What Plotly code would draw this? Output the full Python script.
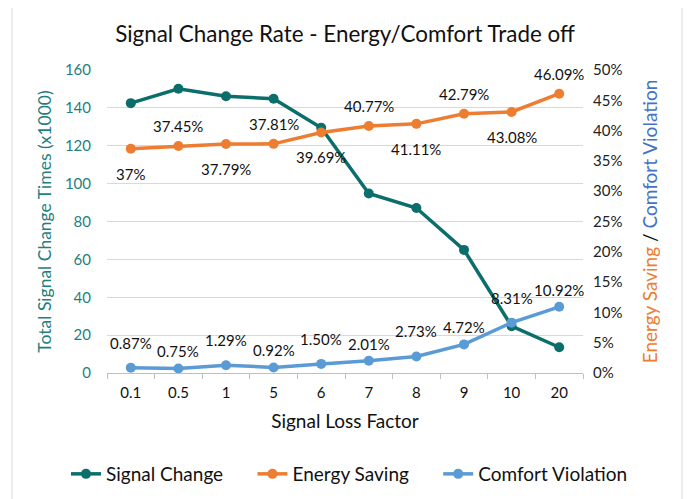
import plotly.graph_objects as go

loss_factors = ['0.1', '0.5', '1', '5', '6', '7', '8', '9', '10', '20']
signal_change = [142.5, 150.1, 146.1, 144.8, 129.5, 94.8, 87.1, 65.0, 24.7, 13.6]
energy_saving = [37.0, 37.45, 37.79, 37.81, 39.69, 40.77, 41.11, 42.79, 43.08, 46.09]
comfort_violation = [0.87, 0.75, 1.29, 0.92, 1.50, 2.01, 2.73, 4.72, 8.31, 10.92]
energy_labels = ['37%', '37.45%', '37.79%', '37.81%', '39.69%',
                 '40.77%', '41.11%', '42.79%', '43.08%', '46.09%']
comfort_labels = ['0.87%', '0.75%', '1.29%', '0.92%', '1.50%',
                  '2.01%', '2.73%', '4.72%', '8.31%', '10.92%']

TEAL = '#0B6E6B'
ORANGE = '#ED7D31'
BLUE = '#5B9BD5'
FONT = 'Lato, Open Sans, sans-serif'
PAD = '&nbsp;' * 5  # widens the legend entries like excel spacing

# the page body adds an 8px offset, so the figure is laid out 8px smaller
OFF = 8
W, H = 696 - OFF, 499 - OFF
L, R, T, B = 107 - OFF, 113, 70 - OFF, 126

fig = go.Figure()
fig.add_trace(go.Scatter(
    x=loss_factors, y=signal_change, name='Signal Change' + PAD,
    mode='lines+markers', line=dict(color=TEAL, width=3.5),
    marker=dict(size=10, color=TEAL),
))
fig.add_trace(go.Scatter(
    x=loss_factors, y=energy_saving, name='Energy Saving' + PAD, yaxis='y2',
    mode='lines+markers', line=dict(color=ORANGE, width=3.5),
    marker=dict(size=10, color=ORANGE),
))
fig.add_trace(go.Scatter(
    x=loss_factors, y=comfort_violation, name='Comfort Violation', yaxis='y2',
    mode='lines+markers', line=dict(color=BLUE, width=3.5),
    marker=dict(size=10, color=BLUE),
))

annotations = []
# energy labels alternate below / above the points, like the excel original
for i, (val, lab) in enumerate(zip(energy_saving, energy_labels)):
    annotations.append(dict(
        x=i, y=val, xref='x', yref='y2', text=lab, showarrow=False,
        yshift=-25 if i % 2 == 0 else 20,
        font=dict(size=15, color='#111111', family=FONT),
    ))
for i, (val, lab) in enumerate(zip(comfort_violation, comfort_labels)):
    annotations.append(dict(
        x=i, y=val, xref='x', yref='y2', text=lab, showarrow=False,
        yshift=25 if i % 2 == 0 else 17,
        font=dict(size=15, color='#111111', family=FONT),
    ))

pw, ph = W - L - R, H - T - B
fig.update_layout(
    width=W, height=H,
    margin=dict(l=L, r=R, t=T, b=B, autoexpand=False),
    paper_bgcolor='white', plot_bgcolor='white',
    font=dict(family=FONT, size=15, color='#222222'),
    title=dict(text='Signal Change Rate - Energy/Comfort Trade off',
               x=0.5, xref='paper', y=1 - (34 - OFF) / H, yanchor='middle',
               font=dict(size=22.4, color='#111111')),
    xaxis=dict(
        type='category', range=[-0.5, 9.5], automargin=False,
        showline=True, linecolor='#BFBFBF', linewidth=1,
        ticks='outside', tickson='boundaries', ticklen=5, tickcolor='#BFBFBF',
        ticklabelstandoff=6,
        showgrid=False, tickfont=dict(size=15, color='#111111'),
        title=dict(text='Signal Loss Factor', font=dict(size=19, color='#111111'),
                   standoff=14),
    ),
    yaxis=dict(
        range=[0, 160], dtick=20, showgrid=True, gridcolor='#D9D9D9',
        zeroline=False, ticklabelstandoff=15, automargin=False,
        tickfont=dict(size=15, color='#1F7F7F'),
        title=dict(text='Total Signal Change Times (x1000)',
                   font=dict(size=17.5, color='#1F7F7F'), standoff=8),
    ),
    yaxis2=dict(
        range=[0, 50], dtick=5, overlaying='y', side='right', showgrid=False,
        zeroline=False, ticksuffix='%', ticklabelstandoff=9, automargin=False,
        tickfont=dict(size=15, color='#222222'),
        title=dict(text="<span style='color:#ED7D31'>Energy Saving</span> / "
                        "<span style='color:#4472C4'>Comfort Violation</span>",
                   font=dict(size=19, color='#111111'), standoff=22),
    ),
    # left-anchored outside the plot so the three entries fit on one row
    legend=dict(orientation='h', xref='paper', yref='paper',
                x=(58 - L) / pw, xanchor='left',
                y=-(474 - OFF - (H - B)) / ph, yanchor='middle',
                font=dict(size=19, color='#111111')),
    annotations=annotations,
    shapes=[dict(type='rect', xref='paper', yref='paper',
                 x0=(12 - 107) / pw, x1=(682 - 107) / pw,
                 y0=-(520 - 373) / ph, y1=(373 - 5) / ph,
                 line=dict(color='#D9D9D9', width=1), layer='below')],
)

fig.write_html('out.html')
